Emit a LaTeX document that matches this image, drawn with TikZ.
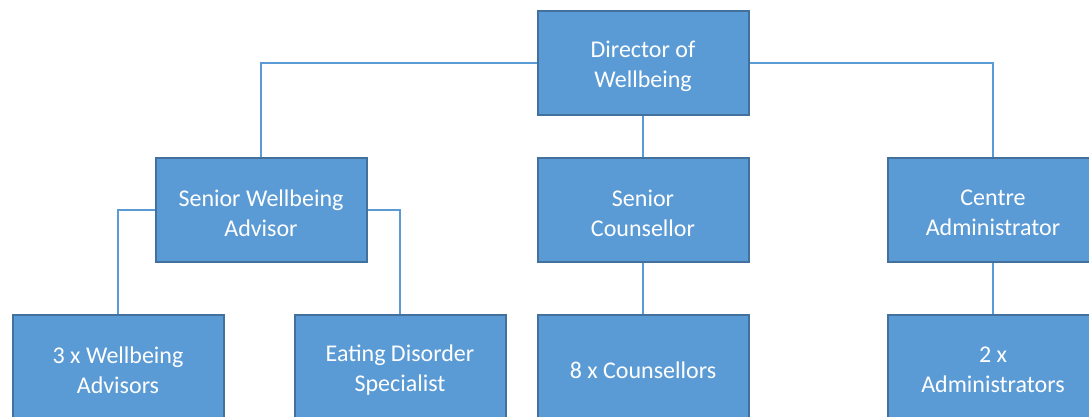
\documentclass[tikz,border=0pt]{standalone}
\usepackage{fontspec}
\setmainfont{Carlito}
\definecolor{boxfill}{HTML}{5B9BD5}
\definecolor{boxedge}{HTML}{41719C}
\definecolor{linkblue}{HTML}{5B9BD5}
\begin{document}
\begin{tikzpicture}[x=1pt,y=-1pt,
  role/.style={draw=boxedge, fill=boxfill, line width=2pt,
    minimum width=211pt, minimum height=104pt, inner sep=0pt},
  roletext/.style={align=center, text=white, inner sep=0pt, yshift=-3pt,
    font=\fontsize{24}{30}\selectfont},
  link/.style={draw=linkblue, line width=1.4pt}]
  \clip (0,0) rectangle (1089,416);
  \fill[white] (0,0) rectangle (1089,416);

  % top level
  \node[role, label={[roletext]center:Director of\\Wellbeing}] (dir) at (643,63) {};
  % second level
  \node[role, label={[roletext]center:Senior Wellbeing\\Advisor}] (swa) at (261,210) {};
  \node[role, label={[roletext]center:Senior\\Counsellor}] (sc) at (643,210) {};
  \node[role, label={[roletext]center:Centre\\Administrator}] (ca) at (993,210) {};
  % third level
  \node[role, label={[roletext]center:3 x Wellbeing\\Advisors}] (wa) at (118,367) {};
  \node[role, label={[roletext]center:Eating Disorder\\Specialist}] (eds) at (400,367) {};
  \node[role, label={[roletext]center:8 x Counsellors}] (cs) at (643,367) {};
  \node[role, label={[roletext]center:2 x\\Administrators}] (adm) at (993,367) {};

  % reporting lines
  \draw[link] (dir.west) -| (swa.north);
  \draw[link] (dir.east) -| (ca.north);
  \draw[link] (dir.south) -- (sc.north);
  \draw[link] (swa.west) -| (wa.north);
  \draw[link] (swa.east) -| (eds.north);
  \draw[link] (sc.south) -- (cs.north);
  \draw[link] (ca.south) -- (adm.north);
\end{tikzpicture}
\end{document}
